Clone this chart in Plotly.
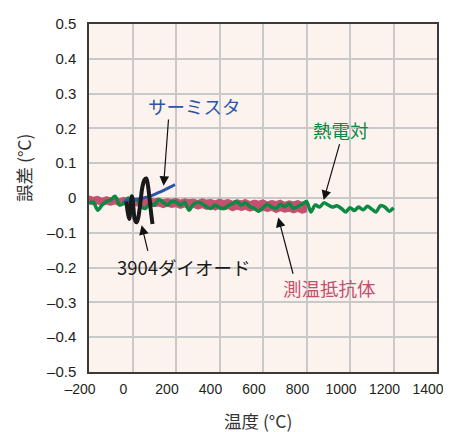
import plotly.graph_objects as go

# ---- data ----
x_ticks = [-200, 0, 200, 400, 600, 800, 1000, 1200, 1400]
x_ticklabels = ["–200", "0", "200", "400", "600", "800", "1000", "1200", "1400"]
y_ticks = [0.5, 0.4, 0.3, 0.2, 0.1, 0, -0.1, -0.2, -0.3, -0.4, -0.5]
y_ticklabels = ["0.5", "0.4", "0.3", "0.2", "0.1", "0", "–0.1", "–0.2", "–0.3", "–0.4", "–0.5"]

# thermocouple (熱電対)
tc_x = [-200, -180, -160, -140, -120, -100, -80, -60, -40, -20, 0, 20, 40, 60, 80, 100,
        120, 140, 160, 180, 200, 220, 240, 260, 280, 300, 320, 340, 360, 380, 400, 420,
        440, 460, 480, 500, 520, 540, 560, 580, 600, 620, 640, 660, 680, 700, 720, 740,
        760, 780, 800, 820, 840, 860, 880, 900, 920, 940, 960, 980, 1000, 1020, 1040,
        1060, 1080, 1100, 1120, 1140, 1160, 1180, 1200]
tc_y = [-0.015, -0.012, -0.035, -0.02, -0.01, -0.005, 0.005, -0.02, -0.015, 0.0, -0.01,
        -0.005, -0.025, -0.03, -0.015, -0.02, -0.005, -0.012, -0.02, -0.01, -0.012, -0.02,
        -0.012, -0.035, -0.018, -0.012, -0.016, -0.025, -0.03, -0.02, -0.028, -0.03,
        -0.022, -0.016, -0.01, -0.02, -0.014, -0.025, -0.03, -0.038, -0.028, -0.018,
        -0.026, -0.03, -0.018, -0.025, -0.016, -0.03, -0.024, -0.018, -0.01, -0.04,
        -0.02, -0.026, -0.014, -0.02, -0.026, -0.022, -0.03, -0.04, -0.028, -0.036,
        -0.026, -0.034, -0.024, -0.032, -0.04, -0.022, -0.026, -0.038, -0.028]

# RTD (測温抵抗体) band edges
rtd_x = [-200, -180, -160, -140, -120, -100, -80, -60, -40, -20, 0, 20, 40, 60, 80, 100,
         120, 140, 160, 180, 200, 220, 240, 260, 280, 300, 320, 340, 360, 380, 400, 420,
         440, 460, 480, 500, 520, 540, 560, 580, 600, 620, 640, 660, 680, 700, 720, 740,
         760, 780, 800]
rtd_upper = [0.006, 0.002, 0.005, -0.001, 0.004, 0.0, 0.003, -0.002, 0.002, -0.003, 0.001,
             -0.002, 0.0, -0.004, -0.001, -0.003, 0.0, -0.005, -0.002, -0.004, -0.001,
             -0.006, -0.002, -0.005, -0.003, -0.007, -0.002, -0.006, -0.004, -0.008,
             -0.003, -0.007, -0.004, -0.009, -0.005, -0.008, -0.004, -0.01, -0.006,
             -0.009, -0.005, -0.011, -0.007, -0.01, -0.006, -0.012, -0.008, -0.011,
             -0.007, -0.012, -0.009]
rtd_lower = [-0.016, -0.02, -0.017, -0.022, -0.018, -0.021, -0.017, -0.023, -0.019,
             -0.024, -0.02, -0.023, -0.021, -0.026, -0.022, -0.025, -0.023, -0.028,
             -0.024, -0.027, -0.025, -0.03, -0.026, -0.031, -0.027, -0.032, -0.028,
             -0.033, -0.029, -0.035, -0.03, -0.034, -0.031, -0.037, -0.032, -0.036,
             -0.033, -0.038, -0.034, -0.04, -0.035, -0.039, -0.036, -0.042, -0.037,
             -0.041, -0.038, -0.043, -0.039, -0.044, -0.04]

# thermistor (サーミスタ)
th_x = [-40, -20, 0, 25, 50, 75, 100, 125, 150, 175, 195]
th_y = [-0.01, -0.008, -0.005, -0.003, 0.0, 0.004, 0.01, 0.017, 0.024, 0.032, 0.039]

# 3904 diode
di_x = [-28, -22, -15, -8, -3, 3, 10, 18, 25, 35, 45, 55, 63, 70, 78, 85, 92]
di_y = [-0.01, -0.04, -0.06, -0.02, 0.005, -0.02, -0.06, -0.07, -0.06, -0.02, 0.03,
        0.052, 0.056, 0.04, 0.0, -0.04, -0.075]

# ---- colours ----
GREEN = "#0b8a43"
PINK = "#c2506e"
BLUE = "#2b55a8"
BLACK = "#1a1a1a"

fig = go.Figure()

fig.add_trace(go.Scatter(
    x=rtd_x + rtd_x[::-1], y=rtd_upper + rtd_lower[::-1],
    fill="toself", fillcolor=PINK, mode="lines",
    line=dict(color=PINK, width=1), hoverinfo="skip", showlegend=False))

fig.add_trace(go.Scatter(
    x=tc_x, y=tc_y, mode="lines",
    line=dict(color=GREEN, width=3.5, shape="spline", smoothing=0.8),
    showlegend=False))

fig.add_trace(go.Scatter(
    x=th_x, y=th_y, mode="lines",
    line=dict(color=BLUE, width=3, shape="spline"), showlegend=False))

fig.add_trace(go.Scatter(
    x=di_x, y=di_y, mode="lines",
    line=dict(color=BLACK, width=4, shape="spline"), showlegend=False))

JP = "Noto Sans CJK JP"
NUM = "Liberation Sans, Arial, sans-serif"

labels = [
    ("サーミスタ", 285, 0.264, BLUE),
    ("熱電対", 959, 0.194, GREEN),
    ("3904ダイオード", 237, -0.199, BLACK),
    ("測温抵抗体", 906, -0.258, PINK),
]
for t, x, y, c in labels:
    fig.add_annotation(x=x, y=y, text=t, showarrow=False,
                       font=dict(family=JP, size=18.5, color=c))

arrows = [
    (166, 0.23, 143, 0.035),
    (954, 0.159, 879, -0.006),
    (72, -0.156, 42, -0.078),
    (740, -0.222, 670, -0.056),
]
for ax, ay, x, y in arrows:
    fig.add_annotation(x=x, y=y, ax=ax, ay=ay, axref="x", ayref="y", text="",
                       showarrow=True, arrowhead=2, arrowsize=1.6, arrowwidth=1.2,
                       arrowcolor="#111111")

# axis titles
fig.add_annotation(xref="paper", yref="paper", x=0.487, y=-0.138, text="温度 (°C)",
                   showarrow=False, font=dict(family=JP, size=17.5, color="#333333"),
                   yanchor="middle")
fig.add_annotation(xref="paper", yref="paper", x=-0.189, y=0.587, text="誤差 (°C)",
                   showarrow=False, textangle=-90,
                   font=dict(family=JP, size=17.5, color="#333333"), xanchor="center")

fig.update_layout(
    width=443, height=424,
    margin=dict(l=81, r=7, t=8, b=60),
    paper_bgcolor="white", plot_bgcolor="#fdf3ee",
    font=dict(family=NUM, size=15, color="#231f20"),
    showlegend=False,
)
fig.update_xaxes(range=[-200, 1400], tickvals=x_ticks, ticktext=x_ticklabels,
                 showgrid=True, gridcolor="#c9c9c9", gridwidth=1.5,
                 zeroline=False, showline=True, linecolor="#3a3a3a", linewidth=1.5,
                 mirror=True, ticks="", ticklabelstandoff=3, ticklabelshift=-9,
                 ticklabeloverflow="allow", tickfont=dict(size=14))
fig.update_yaxes(range=[-0.5, 0.5], tickvals=y_ticks, ticktext=y_ticklabels,
                 showgrid=True, gridcolor="#c9c9c9", gridwidth=1.5,
                 zeroline=False, showline=True, linecolor="#3a3a3a", linewidth=1.5,
                 mirror=True, ticks="", ticklabelstandoff=8)

fig.write_html("out.html")
